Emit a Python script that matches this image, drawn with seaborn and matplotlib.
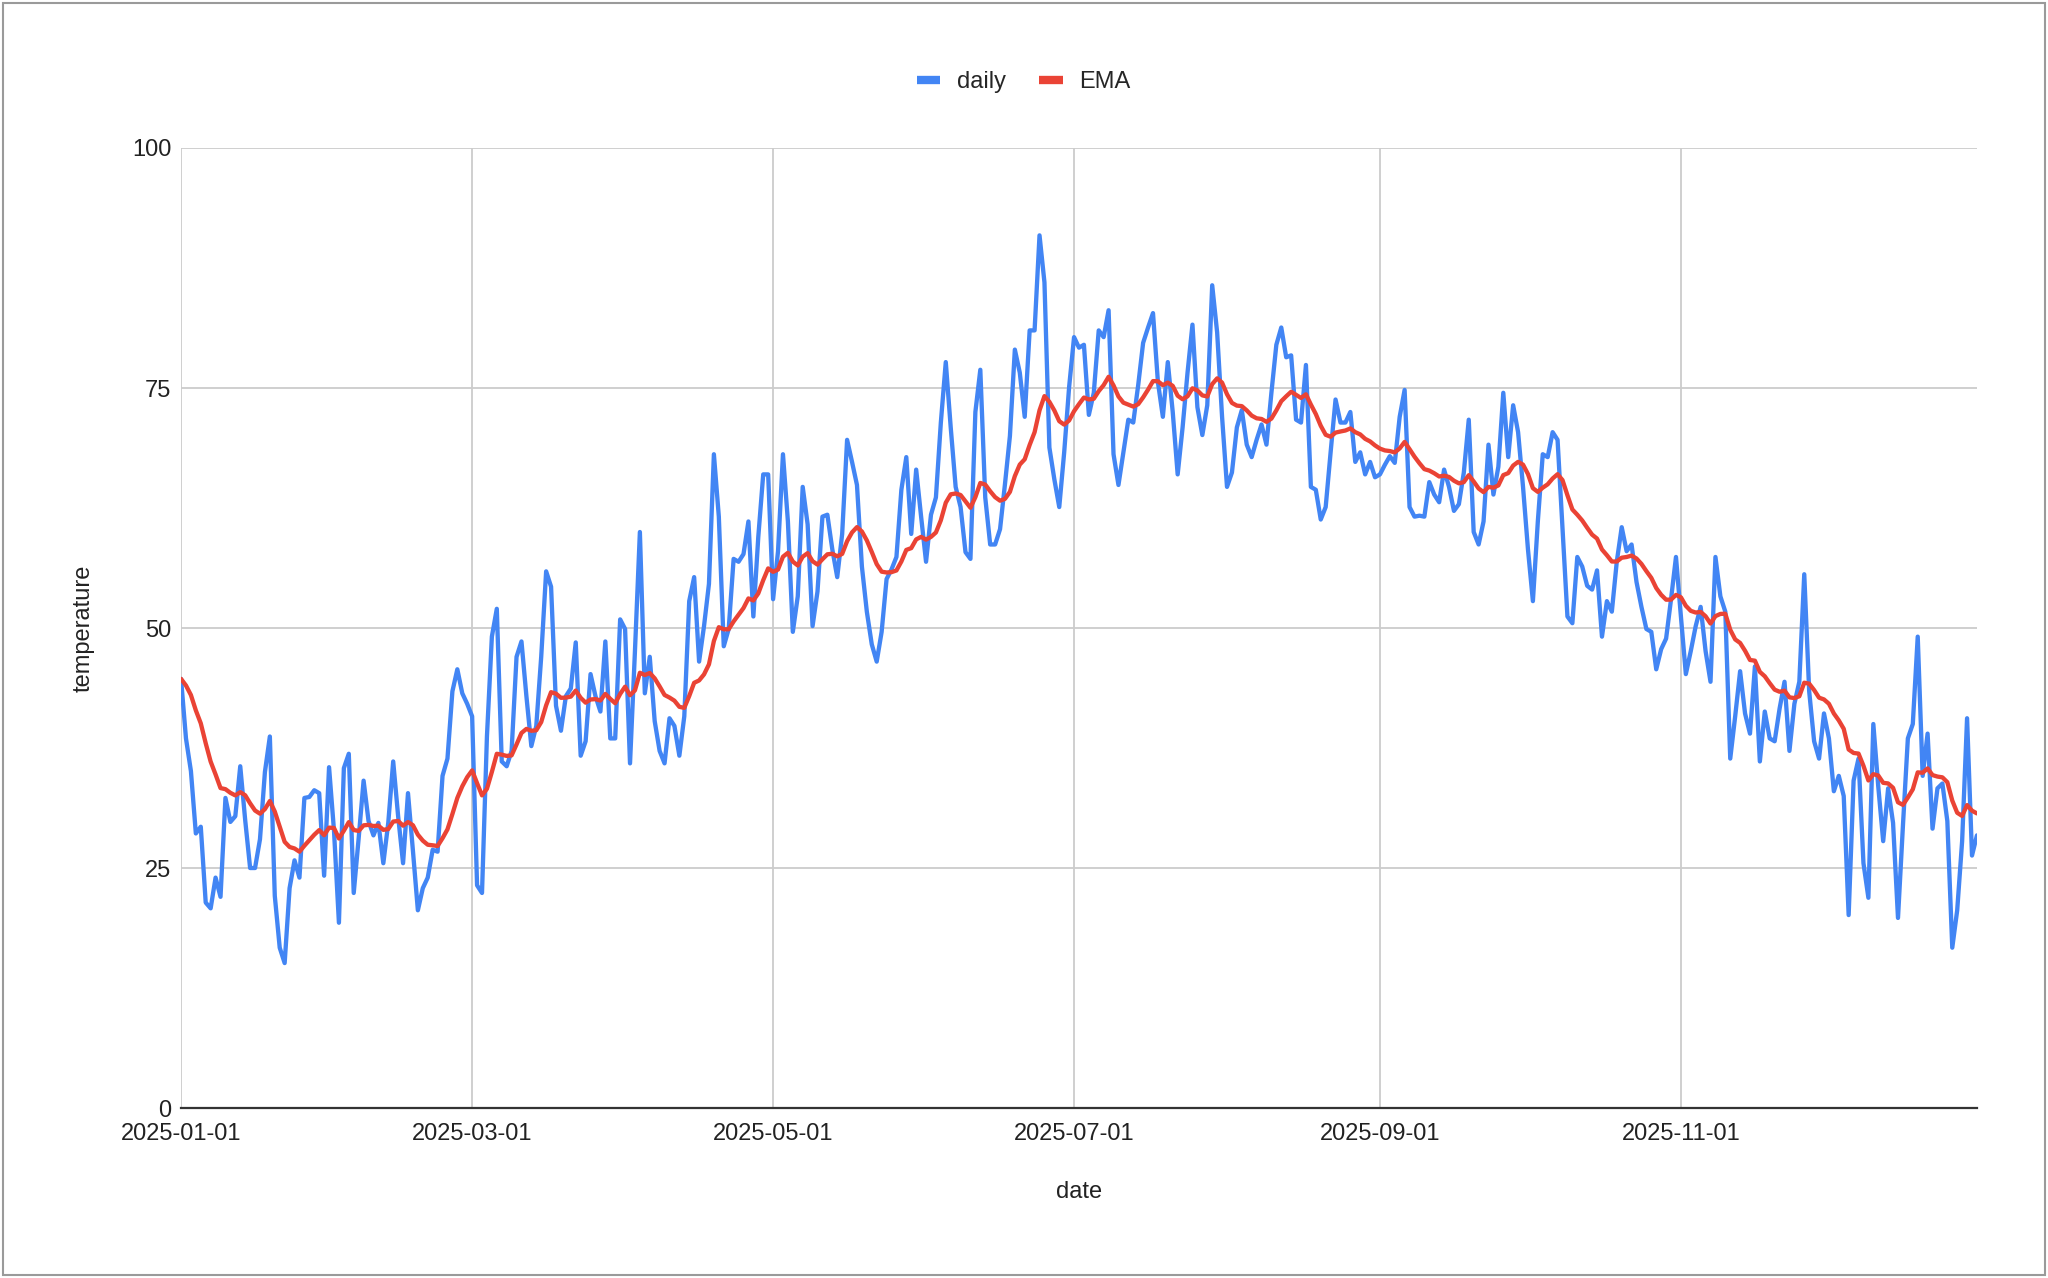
import pandas as pd
import matplotlib
matplotlib.use("Agg")
import matplotlib.pyplot as plt
import matplotlib.dates as mdates
from matplotlib.lines import Line2D
from matplotlib.patches import Rectangle
import seaborn as sns

# === DATOS ===
start_date = "2025-01-01"
daily_temp = [
    44.7, 38.5, 35.1, 28.6, 29.3, 21.4, 20.8, 24.0, 22.0, 32.3,
    29.8, 30.4, 35.6, 30.0, 25.0, 25.0, 28.0, 35.0, 38.7, 22.1,
    16.7, 15.1, 22.9, 25.8, 24.0, 32.3, 32.4, 33.1, 32.8, 24.2,
    35.5, 28.9, 19.3, 35.4, 36.9, 22.4, 28.1, 34.1, 29.9, 28.4,
    29.7, 25.5, 29.7, 36.1, 30.4, 25.5, 32.8, 26.8, 20.6, 22.9,
    24.0, 26.9, 26.7, 34.6, 36.4, 43.4, 45.7, 43.2, 42.1, 40.8,
    23.2, 22.4, 38.7, 49.1, 52.0, 36.1, 35.6, 37.2, 47.0, 48.6,
    42.9, 37.7, 39.8, 47.0, 55.9, 54.3, 41.9, 39.3, 42.9, 43.7,
    48.5, 36.7, 38.2, 45.2, 42.9, 41.3, 48.6, 38.5, 38.5, 50.9,
    49.9, 35.9, 47.6, 60.0, 43.2, 47.0, 40.3, 37.2, 35.9, 40.6,
    39.8, 36.7, 40.8, 52.8, 55.3, 46.5, 50.2, 54.6, 68.1, 61.6,
    48.1, 49.9, 57.2, 56.9, 57.7, 61.1, 51.2, 59.5, 66.0, 66.0,
    53.0, 58.0, 68.1, 61.1, 49.6, 53.3, 64.7, 60.8, 50.2, 53.8,
    61.6, 61.8, 58.2, 55.3, 59.8, 69.6, 67.3, 64.9, 56.4, 51.7,
    48.3, 46.5, 49.6, 55.1, 56.1, 57.4, 64.4, 67.8, 59.8, 66.5,
    61.6, 56.9, 61.8, 63.6, 71.4, 77.7, 70.9, 64.7, 62.6, 57.9,
    57.2, 72.5, 76.9, 63.6, 58.7, 58.7, 60.3, 65.0, 70.0, 79.0,
    76.6, 72.0, 81.0, 81.0, 90.9, 86.0, 68.8, 65.5, 62.6, 68.3,
    75.1, 80.3, 79.2, 79.5, 72.2, 74.5, 81.0, 80.3, 83.1, 68.1,
    64.9, 68.3, 71.7, 71.4, 75.3, 79.7, 81.3, 82.8, 75.6, 72.0,
    77.7, 72.5, 66.0, 70.9, 76.6, 81.6, 73.0, 70.1, 73.2, 85.7,
    80.8, 72.0, 64.7, 66.2, 70.9, 72.7, 69.1, 67.8, 69.6, 71.2,
    69.1, 74.5, 79.5, 81.3, 78.2, 78.4, 71.7, 71.4, 77.4, 64.7,
    64.4, 61.3, 62.6, 68.3, 73.8, 71.4, 71.4, 72.5, 67.3, 68.3,
    66.0, 67.3, 65.7, 66.0, 67.0, 67.9, 67.2, 72.0, 74.8, 62.6,
    61.6, 61.7, 61.6, 65.2, 63.9, 63.1, 66.5, 64.7, 62.2, 62.9,
    66.2, 71.7, 60.0, 58.7, 61.1, 69.1, 63.9, 66.8, 74.5, 67.8,
    73.2, 70.4, 64.7, 58.2, 52.8, 61.1, 68.1, 67.8, 70.4, 69.6,
    60.5, 51.2, 50.5, 57.4, 56.4, 54.4, 54.0, 56.0, 49.1, 52.8,
    51.7, 56.9, 60.5, 58.0, 58.7, 54.8, 52.2, 49.9, 49.6, 45.7,
    47.8, 48.9, 53.0, 57.4, 51.2, 45.2, 47.6, 50.2, 52.2, 47.6,
    44.4, 57.4, 53.3, 51.7, 36.4, 40.8, 45.5, 41.1, 39.0, 46.0,
    36.1, 41.3, 38.5, 38.2, 41.6, 44.4, 37.2, 42.1, 44.4, 55.6,
    43.4, 38.2, 36.4, 41.1, 38.5, 33.0, 34.6, 32.5, 20.1, 34.1,
    36.4, 25.5, 21.9, 40.0, 33.5, 27.8, 33.3, 29.7, 19.8, 29.4,
    38.5, 40.0, 49.1, 34.6, 39.0, 29.1, 33.3, 33.8, 29.9, 16.7,
    20.6, 27.8, 40.6, 26.3, 28.4,
]
ema_span = 17
y_ticks = [0, 25, 50, 75, 100]
x_tick_months = [1, 3, 5, 7, 9, 11]
colors = {"daily": "#4285F4", "EMA": "#EA4335"}

# === PREPARACION ===
dates = pd.date_range(start_date, periods=len(daily_temp), freq="D")
df = pd.DataFrame({"date": dates, "daily": daily_temp})
df["EMA"] = df["daily"].ewm(span=ema_span, adjust=False).mean()
long_df = df.melt(id_vars="date", value_vars=["daily", "EMA"],
                  var_name="series", value_name="temperature")

# === GRAFICO ===
sns.set_theme(style="whitegrid")
plt.rcParams["font.family"] = ["Liberation Sans", "DejaVu Sans"]

fig = plt.figure(figsize=(20.48, 12.78), dpi=100)
ax = fig.add_axes([0.0884, 0.133, 0.8769, 0.7512])

sns.lineplot(data=long_df, x="date", y="temperature", hue="series",
             palette=colors, linewidth=3.1, ax=ax, legend=False)

ax.set_xlim(dates[0], dates[-1])
ax.set_ylim(0, 100)
ax.set_yticks(y_ticks)
ax.xaxis.set_major_locator(mdates.MonthLocator(bymonth=x_tick_months))
ax.xaxis.set_major_formatter(mdates.DateFormatter("%Y-%m-%d"))

ax.grid(True, color="#cccccc", linewidth=1.3)
for side in ["left", "right", "top"]:
    ax.spines[side].set_visible(False)
ax.spines["bottom"].set_color("#333333")
ax.spines["bottom"].set_linewidth(1.6)
ax.spines["bottom"].set_zorder(5)

ax.tick_params(axis="both", length=0, labelsize=17, labelcolor="#222222")
ax.tick_params(axis="x", pad=11)
ax.tick_params(axis="y", pad=7)

ax.set_xlabel("date", fontsize=17, color="#222222")
ax.set_ylabel("temperature", fontsize=17, color="#222222")
ax.xaxis.set_label_coords(0.5, -0.0875)
ax.xaxis.label.set_va("center")
ax.yaxis.set_label_coords(-0.0545, 0.5)
ax.yaxis.label.set_va("center")

# leyenda con marcas rectangulares
handles = [Line2D([0], [0], color=colors[k], linewidth=6, solid_capstyle="butt")
           for k in ["daily", "EMA"]]
fig.legend(handles, ["daily", "EMA"], loc="center", bbox_to_anchor=(0.4998, 0.936),
           ncol=2, frameon=False, fontsize=17, handlelength=1.0,
           handletextpad=0.7, columnspacing=1.4)

# borde exterior
fig.patches.append(Rectangle((0.0015, 0.0025), 0.997, 0.995, transform=fig.transFigure,
                             fill=False, edgecolor="#9a9a9a", linewidth=1.5))

fig.savefig("out.png", dpi=100)
